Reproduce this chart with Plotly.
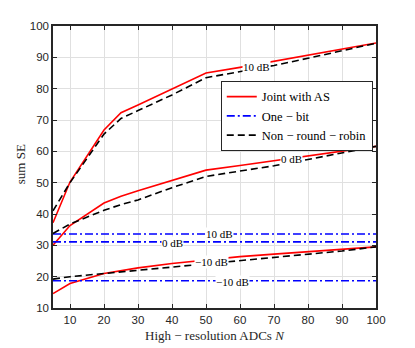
import plotly.graph_objects as go

# high-resolution ADCs N
N = [5, 10, 20, 25, 30, 40, 50, 60, 70, 80, 90, 100]

# Joint with AS (red solid)
joint_10db = [37.2, 50.2, 66.8, 72.3, 74.8, 80.0, 85.0, 86.8, 88.7, 90.6, 92.6, 94.6]
joint_0db = [30.0, 36.3, 43.5, 45.7, 47.4, 50.7, 54.0, 55.5, 57.0, 58.6, 60.1, 61.6]
joint_m10db = [14.6, 17.8, 21.0, 22.0, 22.8, 24.2, 25.4, 26.4, 27.2, 28.0, 28.8, 29.5]

# Non-round-robin (black dashed)
nrr_10db = [41.0, 50.0, 65.5, 70.5, 73.0, 78.0, 83.5, 85.5, 87.4, 89.7, 92.1, 94.5]
nrr_0db = [33.8, 36.8, 41.2, 43.0, 44.5, 48.4, 52.0, 53.7, 55.4, 57.4, 59.5, 61.6]
nrr_m10db = [19.2, 20.0, 21.0, 21.5, 22.0, 23.0, 24.0, 25.0, 26.0, 27.0, 28.2, 29.5]

# One-bit (blue dash-dot, flat)
onebit_10db = [33.6] * len(N)
onebit_0db = [31.1] * len(N)
onebit_m10db = [18.7] * len(N)

# contour-style labels: text, x, y
LABELS = [
    ("10 dB", 64.9, 86.9),
    ("0 dB", 75.2, 57.4),
    ("\u221210 dB", 51.6, 24.8),
    ("10 dB", 54.0, 33.6),
    ("0 dB", 40.1, 30.7),
    ("\u221210 dB", 57.8, 18.3),
]

SERIF = "Liberation Serif"
SANS = "Liberation Sans"
RED = "#ff0000"
BLUE = "#0000ff"
DASH = "7px,4px"
DASHDOT = "8px,3px,2px,3px"

fig = go.Figure()


def add(y, color, dash, name, show):
    fig.add_trace(go.Scatter(
        x=N, y=y, mode="lines", name=name, showlegend=show,
        line=dict(color=color, width=1.6, dash=dash),
    ))


add(joint_10db, RED, "solid", "Joint with AS", True)
add(onebit_10db, BLUE, DASHDOT, "One \u2212 bit", True)
add(nrr_10db, "black", DASH, "Non \u2212 round \u2212 robin", True)
add(joint_0db, RED, "solid", "", False)
add(joint_m10db, RED, "solid", "", False)
add(nrr_0db, "black", DASH, "", False)
add(nrr_m10db, "black", DASH, "", False)
add(onebit_0db, BLUE, DASHDOT, "", False)
add(onebit_m10db, BLUE, DASHDOT, "", False)

for txt, lx, ly in LABELS:
    fig.add_annotation(
        x=lx, y=ly, text=txt, showarrow=False,
        font=dict(family=SERIF, size=11, color="black"),
        bgcolor="white", borderpad=0,
    )

# axis titles placed as annotations (MATLAB-like spacing)
fig.add_annotation(
    xref="paper", yref="paper", x=0.5, y=-0.066, yanchor="top",
    text="High \u2212 resolution ADCs <i>N</i>", showarrow=False,
    font=dict(family=SERIF, size=13, color="#262626"), borderpad=0,
)
fig.add_annotation(
    xref="paper", yref="paper", x=-0.102, y=0.51, xanchor="center",
    text="sum SE", textangle=-90, showarrow=False,
    font=dict(family=SERIF, size=13, color="#262626"),
)

axis_style = dict(
    showline=True, linecolor="#262626", linewidth=1.5, mirror="ticks",
    ticks="inside", ticklen=4, tickcolor="#262626",
    showgrid=True, gridcolor="#e0e0e0", gridwidth=1,
    zeroline=False,
    tickfont=dict(family=SANS, size=11.5, color="#262626"),
)

# the page body adds an 8px offset, so the figure is 8px smaller and
# the left/top margins are reduced to land the axes where the original has them
fig.update_layout(
    width=407, height=340,
    paper_bgcolor="white", plot_bgcolor="white",
    margin=dict(l=45, r=39, t=18, b=40, autoexpand=False),
    xaxis=dict(**axis_style, range=[5, 100], dtick=10, tick0=0),
    yaxis=dict(**axis_style, range=[10, 100], dtick=10),
    legend=dict(
        x=0.99, y=0.805, xanchor="right", yanchor="top",
        bgcolor="white", bordercolor="#262626", borderwidth=1,
        font=dict(family=SERIF, size=12.5, color="black"),
        tracegroupgap=0, itemwidth=30,
    ),
    showlegend=True,
)

fig.write_html("out.html")
